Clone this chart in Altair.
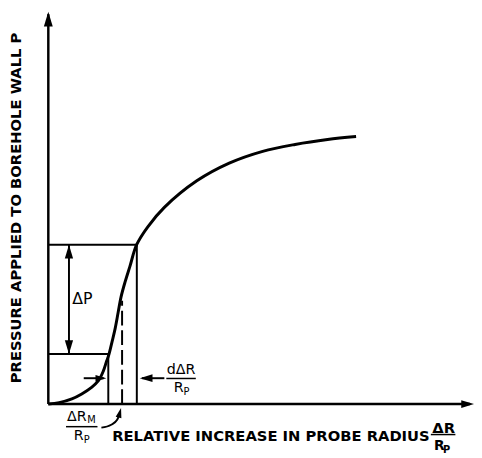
import altair as alt
import pandas as pd

FONT = "DejaVu Sans"
INK = "#000000"

# ---- pressuremeter curve (relative radius increase vs pressure, schematic units)
curve_x = [0, 0.254, 0.554, 0.785, 1.016, 1.178, 1.294, 1.370, 1.421, 1.501, 1.571,
           1.640, 1.709, 1.802, 1.917, 2.075, 2.333, 2.726, 3.488, 4.250,
           5.036, 5.798, 6.560, 7.230]
curve_y = [0, 0.038, 0.134, 0.260, 0.429, 0.598, 0.850, 1.102, 1.261, 1.614, 1.942,
           2.346, 2.749, 3.127, 3.531, 4.086, 4.540, 5.044, 5.725, 6.179,
           6.482, 6.658, 6.784, 6.860]

# ---- key levels
x_dr1, x_dr2, x_drm = 1.409, 2.079, 1.733
p_low, p_high = 1.286, 4.086
p_drm_top = 2.648
x_dp = 0.485
y_small = 0.663

# ---- axes (thick)
axis_x = [0, 0]
axis_y = [0, 0]
axis_x2 = [0, 9.9]
axis_y2 = [10.0, 0]

# ---- construction lines (thin)
seg_x = [0, x_dr2, 0, x_dr1, x_dp, 0.832, 2.20]
seg_y = [p_high, 0, p_low, 0, p_low, y_small, y_small]
seg_x2 = [x_dr2, x_dr2, x_dr1, x_dr1, x_dp, 1.30, 2.726]
seg_y2 = [p_high, p_high, p_low, p_low, p_high, y_small, y_small]

# ---- fraction bars
bar_x = [2.772, 0.416, 8.986]
bar_x2 = [3.465, 1.155, 9.563]
bar_y = [0.656, -0.580, -0.782]

# ---- dashed line
dash_x = [x_drm]
dash_y = [0]
dash_y2 = [p_drm_top]

# ---- curved pointer to dR_M
ptr_x = [1.247, 1.478, 1.617, 1.686]
ptr_y = [-0.605, -0.530, -0.404, -0.227]

# ---- arrowheads: tip position, direction (deg, clockwise from up), length px
head_x = [0, 10.0, x_dp, x_dp, 1.363, 2.148, 1.709]
head_y = [10.06, 0, p_high, p_low, y_small, y_small, -0.10]
head_angle = [0, 90, 0, 180, 90, 270, 15]
head_len = [15, 13, 14, 14, 11, 13, 10]

# ---- labels (normal weight)
lab_text = ["ΔP", "dΔR", "R", "P", "ΔR", "M", "R", "P"]
lab_x = [0.797, 3.119, 3.061, 3.246, 0.670, 1.016, 0.716, 0.901]
lab_y = [2.699, 0.883, 0.404, 0.303, -0.328, -0.404, -0.820, -0.921]
lab_size = [16, 14.5, 14.5, 10, 14.5, 10, 14.5, 10]

# ---- labels (bold)
blab_text = ["ΔR", "R", "P"]
blab_x = [9.286, 9.183, 9.356]
blab_y = [-0.605, -1.084, -1.185]
blab_size = [15, 14, 10]

x_title = "RELATIVE INCREASE IN PROBE RADIUS"
x_title_pos = (1.50, -0.832)
y_title = "PRESSURE APPLIED TO BOREHOLE WALL P"
y_title_pos = (-0.751, 5.03)

XS = alt.Scale(domain=[-0.947, 10.0], nice=False, zero=False)
YS = alt.Scale(domain=[-1.286, 10.06], nice=False, zero=False)


def X(f="x"):
    return alt.X(f"{f}:Q", scale=XS, axis=None)


def Y(f="y"):
    return alt.Y(f"{f}:Q", scale=YS, axis=None)


axes_df = pd.DataFrame({"x": axis_x, "y": axis_y, "x2": axis_x2, "y2": axis_y2})
seg_df = pd.DataFrame({"x": seg_x, "y": seg_y, "x2": seg_x2, "y2": seg_y2})
bar_df = pd.DataFrame({"x": bar_x, "x2": bar_x2, "y": bar_y})
dash_df = pd.DataFrame({"x": dash_x, "y": dash_y, "y2": dash_y2})
curve_df = pd.DataFrame({"x": curve_x, "y": curve_y})
ptr_df = pd.DataFrame({"x": ptr_x, "y": ptr_y})
head_df = pd.DataFrame({"x": head_x, "y": head_y, "angle": head_angle,
                        "size": [4 * l * l for l in head_len]})
lab_df = pd.DataFrame({"t": lab_text, "x": lab_x, "y": lab_y, "s": lab_size})
blab_df = pd.DataFrame({"t": blab_text, "x": blab_x, "y": blab_y, "s": blab_size})
xt_df = pd.DataFrame({"t": [x_title], "x": [x_title_pos[0]], "y": [x_title_pos[1]]})
yt_df = pd.DataFrame({"t": [y_title], "x": [y_title_pos[0]], "y": [y_title_pos[1]]})

axes_layer = alt.Chart(axes_df).mark_rule(color=INK, strokeWidth=2.5).encode(
    x=X(), y=Y(), x2="x2", y2="y2")
seg_layer = alt.Chart(seg_df).mark_rule(color=INK, strokeWidth=2).encode(
    x=X(), y=Y(), x2="x2", y2="y2")
bar_layer = alt.Chart(bar_df).mark_rule(color=INK, strokeWidth=1.5).encode(
    x=X(), y=Y(), x2="x2")
dash_layer = alt.Chart(dash_df).mark_rule(color=INK, strokeWidth=2, strokeDash=[15, 5]).encode(
    x=X(), y=Y(), y2="y2")
curve_layer = alt.Chart(curve_df).mark_line(color=INK, strokeWidth=3,
                                            interpolate="catmull-rom").encode(
    x=X(), y=Y(), order="x:Q")
ptr_layer = alt.Chart(ptr_df).mark_line(color=INK, strokeWidth=2, interpolate="monotone").encode(
    x=X(), y=Y(), order="x:Q")
head_layer = alt.Chart(head_df).mark_point(
    shape="M0,0L-0.3,1L0.3,1Z", filled=True, fill=INK, opacity=1, strokeWidth=0
).encode(
    x=X(), y=Y(),
    angle=alt.Angle("angle:Q", scale=None),
    size=alt.Size("size:Q", scale=None),
)
lab_layer = alt.Chart(lab_df).mark_text(font=FONT, color=INK, align="center", baseline="middle").encode(
    x=X(), y=Y(), text="t:N", size=alt.Size("s:Q", scale=None))
blab_layer = alt.Chart(blab_df).mark_text(font=FONT, fontWeight="bold", color=INK, align="center",
                                          baseline="middle").encode(
    x=X(), y=Y(), text="t:N", size=alt.Size("s:Q", scale=None))
xt_layer = alt.Chart(xt_df).mark_text(font=FONT, fontWeight="bold", fontSize=15.0, color=INK,
                                      align="left", baseline="middle").encode(
    x=X(), y=Y(), text="t:N")
yt_layer = alt.Chart(yt_df).mark_text(font=FONT, fontWeight="bold", fontSize=15.0, color=INK,
                                      align="center", baseline="middle", angle=270).encode(
    x=X(), y=Y(), text="t:N")

chart = alt.layer(
    seg_layer, bar_layer, dash_layer, axes_layer, curve_layer, ptr_layer, head_layer,
    lab_layer, blab_layer, xt_layer, yt_layer
).properties(
    width=474, height=450, padding=0,
    autosize=alt.AutoSizeParams(type="none"),
    background="white",
).configure_view(stroke=None)

chart.save("out.html", embed_options={"renderer": "svg", "actions": False})
